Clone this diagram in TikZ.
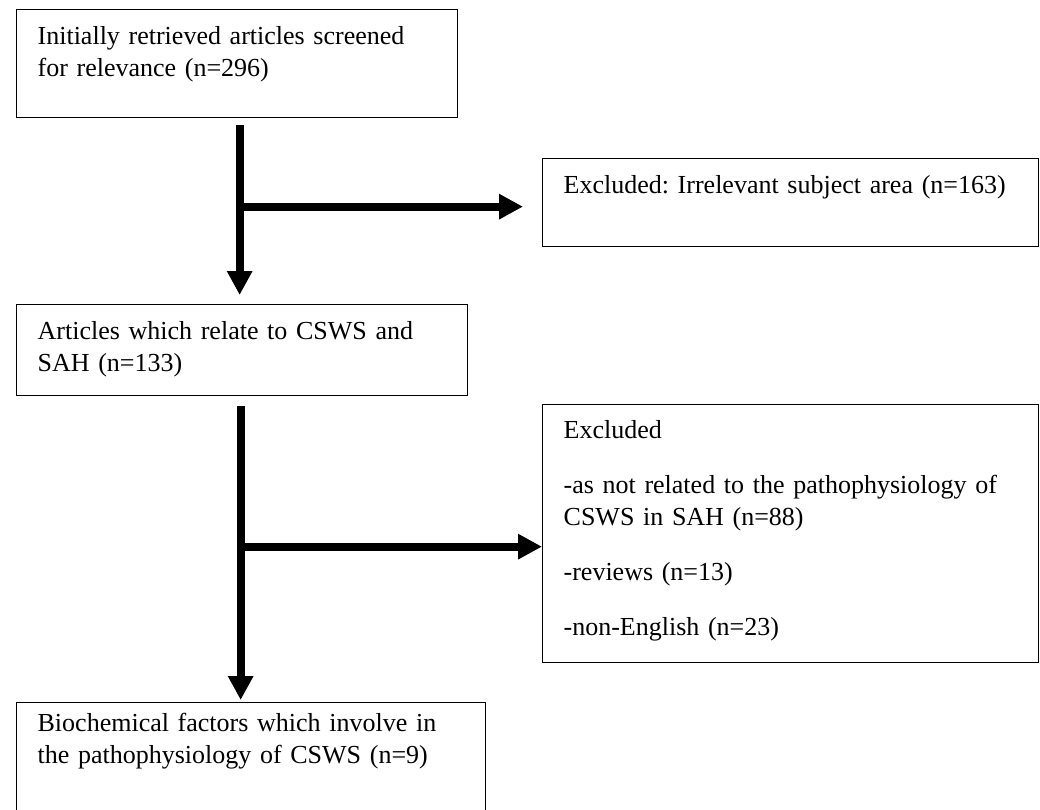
\documentclass[tikz,border=0pt]{standalone}
\usepackage{fontspec}
\setmainfont[WordSpace=0.85]{Liberation Serif}
\usetikzlibrary{arrows.meta}
\frenchspacing

\begin{document}
\begin{tikzpicture}[x=1pt,y=-1pt,
  box/.style={draw=black,line width=1.3pt,anchor=north west,align=left,inner xsep=21pt,inner ysep=0pt,
    font=\fontsize{26}{32}\selectfont,text height=35pt},
  flow/.style={-{Triangle[length=24pt,width=24pt]},draw=black,line width=8pt}
]
\useasboundingbox (0,0) rectangle (1040,810);
\node[box,text width=399pt,text depth=73pt] (screened) at (16,9) {Initially retrieved articles screened\\for relevance (n=296)};
\node[box,text width=454pt,text depth=53pt] (irrelevant) at (542,158) {Excluded: Irrelevant subject area (n=163)};
\node[box,text width=409pt,text depth=56pt] (related) at (16,304) {Articles which relate to CSWS and\\SAH (n=133)};
\node[box,text width=454pt,text height=34pt,text depth=224pt] (excluded) at (542,404) {Excluded\\[23pt]-as not related to the pathophysiology of\\CSWS in SAH (n=88)\\[23pt]-reviews (n=13)\\[23pt]-non-English (n=23)};
\node[box,text width=427pt,text height=29pt,text depth=110pt] (factors) at (16,702) {Biochemical factors which involve in\\the pathophysiology of CSWS (n=9)};
% first split
\coordinate (top1) at ([xshift=2.5pt,yshift=-7pt]screened.south);
\draw[flow] (top1) -- ([yshift=9pt]top1 |- related.north);
\draw[flow] ([yshift=-4pt]top1 |- irrelevant.west) -- ([xshift=-19pt,yshift=-4pt]irrelevant.west);
% second split
\coordinate (top2) at ([xshift=-1.5pt,yshift=-10pt]related.south);
\draw[flow] (top2) -- ([yshift=2pt]top2 |- factors.north);
\draw[flow] ([yshift=-13pt]top2 |- excluded.west) -- ([yshift=-13pt]excluded.west);
\end{tikzpicture}
\end{document}
